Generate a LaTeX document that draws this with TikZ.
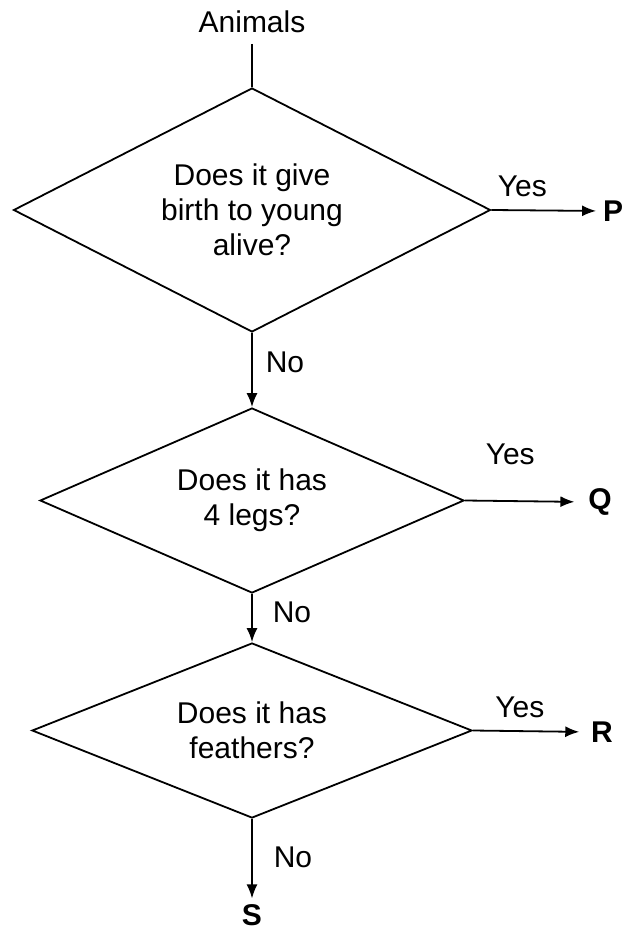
\documentclass[tikz,border=0pt]{standalone}
\usepackage{fontspec}
\setmainfont{Liberation Sans}
\usetikzlibrary{shapes.geometric,arrows.meta}
\begin{document}
\begin{tikzpicture}[x=1pt, y=-1pt, line width=1.8pt,
main/.style = {draw, diamond, aspect=2, inner sep=0pt, align=center},
txt/.style = {inner sep=0pt, font=\fontsize{30}{35}\selectfont},
leaf/.style = {inner sep=0pt, font=\fontsize{30}{35}\selectfont\bfseries},
arr/.style = {-{Latex[length=14pt,width=11pt]}}]
    \useasboundingbox (0,0) rectangle (625,933);

    \node[txt] (0) at (252,22) {Animals};
    \node[main, txt, minimum width=477pt, minimum height=244pt] (1) at (252,210) {Does it give\\birth to young\\alive?};
    \node[main, txt, minimum width=424pt, minimum height=185pt] (2) at (252,500.5) {Does it has\\4 legs?};
    \node[main, txt, minimum width=440pt, minimum height=175pt] (3) at (252,730.5) {Does it has\\feathers?};

    \node[leaf] (4) at (613,211) {P};
    \node[leaf] (5) at (600,502) {Q};
    \node[leaf] (6) at (602,732) {R};
    \node[leaf] (7) at (252,915) {S};

    \draw[shorten <=10pt] (0.south) -- (1.north);

    \draw[arr, shorten >=6pt] (1.east) -- node[txt, pos=0.28, yshift=24pt] {Yes} (4.west);
    \draw[arr, shorten >=13pt] (2.east) -- node[txt, pos=0.37, yshift=47pt] {Yes} (5.west);
    \draw[arr, shorten >=11pt] (3.east) -- node[txt, pos=0.40, yshift=24pt] {Yes} (6.west);

    \draw[arr] (1.south) -- node[txt, pos=0.39, xshift=33pt] {No} (2.north);
    \draw[arr] (2.south) -- node[txt, pos=0.38, xshift=40pt] {No} (3.north);
    \draw[arr, shorten >=5pt] (3.south) -- node[txt, pos=0.45, xshift=41pt] {No} (7.north);

\end{tikzpicture}
\end{document}
